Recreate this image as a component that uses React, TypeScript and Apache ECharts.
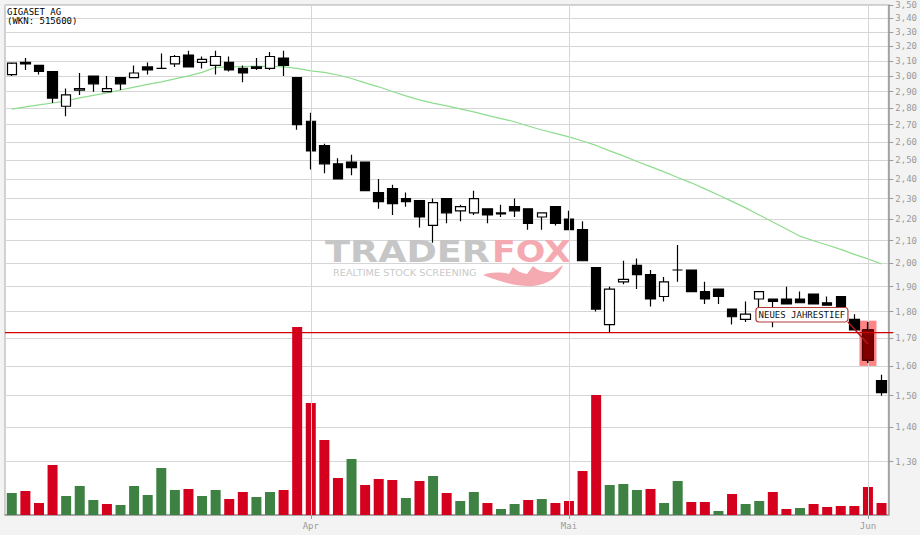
import React, { useEffect, useRef } from 'react';
import * as echarts from 'echarts';

// ---- data ----
const dates = [
  '2012-03-01', '2012-03-02', '2012-03-05', '2012-03-06', '2012-03-07', '2012-03-08', '2012-03-09',
  '2012-03-12', '2012-03-13', '2012-03-14', '2012-03-15', '2012-03-16', '2012-03-19', '2012-03-20',
  '2012-03-21', '2012-03-22', '2012-03-23', '2012-03-26', '2012-03-27', '2012-03-28', '2012-03-29',
  '2012-03-30',
  '2012-04-02', '2012-04-03', '2012-04-04', '2012-04-05', '2012-04-10', '2012-04-11', '2012-04-12',
  '2012-04-13', '2012-04-16', '2012-04-17', '2012-04-18', '2012-04-19', '2012-04-20', '2012-04-23',
  '2012-04-24', '2012-04-25', '2012-04-26', '2012-04-27', '2012-04-30',
  '2012-05-02', '2012-05-03', '2012-05-04', '2012-05-07', '2012-05-08', '2012-05-09', '2012-05-10',
  '2012-05-11', '2012-05-14', '2012-05-15', '2012-05-16', '2012-05-17', '2012-05-18', '2012-05-21',
  '2012-05-22', '2012-05-23', '2012-05-24', '2012-05-25', '2012-05-28', '2012-05-29', '2012-05-30',
  '2012-05-31',
  '2012-06-01', '2012-06-04',
];

const openPrices = [
  3.01, 3.09, 3.07, 3.03, 2.81, 2.91, 3.0, 2.9, 2.99, 2.99,
  3.06, 3.05, 3.08, 3.14, 3.09, 3.07, 3.09, 3.05, 3.06, 3.05,
  3.12, 2.99, 2.72, 2.58, 2.48, 2.49, 2.49, 2.33, 2.35, 2.3,
  2.29, 2.17, 2.3, 2.24, 2.23, 2.25, 2.225, 2.26, 2.25, 2.21,
  2.26, 2.2, 2.15, 1.98, 1.75, 1.92, 1.99, 1.95, 1.86, 1.97,
  1.97, 1.88, 1.89, 1.81, 1.77, 1.85, 1.85, 1.85, 1.85, 1.87,
  1.835, 1.86, 1.77, 1.73, 1.55,
];
const highPrices = [
  3.08, 3.12, 3.07, 3.03, 2.92, 3.02, 3.0, 3.0, 2.99, 3.07,
  3.09, 3.15, 3.14, 3.17, 3.13, 3.17, 3.13, 3.07, 3.12, 3.16,
  3.17, 2.99, 2.77, 2.59, 2.51, 2.53, 2.49, 2.4, 2.37, 2.33,
  2.29, 2.3, 2.3, 2.27, 2.34, 2.25, 2.27, 2.3, 2.25, 2.23,
  2.26, 2.24, 2.19, 1.98, 1.9, 2.01, 2.02, 1.97, 1.94, 2.08,
  1.97, 1.92, 1.89, 1.81, 1.84, 1.88, 1.85, 1.9, 1.88, 1.87,
  1.86, 1.86, 1.79, 1.76, 1.57,
];
const lowPrices = [
  3.0, 3.04, 3.01, 2.83, 2.75, 2.88, 2.9, 2.9, 2.91, 2.99,
  3.01, 3.05, 3.06, 3.06, 3.05, 3.01, 3.03, 2.96, 3.04, 3.04,
  3.0, 2.67, 2.45, 2.43, 2.4, 2.42, 2.34, 2.25, 2.22, 2.26,
  2.16, 2.09, 2.18, 2.19, 2.22, 2.18, 2.21, 2.21, 2.15, 2.15,
  2.17, 2.15, 2.01, 1.8, 1.72, 1.91, 1.89, 1.82, 1.84, 1.92,
  1.88, 1.83, 1.83, 1.75, 1.76, 1.81, 1.74, 1.83, 1.835, 1.83,
  1.825, 1.76, 1.73, 1.61, 1.5,
];
const closePrices = [
  3.085, 3.08, 3.03, 2.86, 2.88, 2.92, 2.95, 2.92, 2.95, 3.02,
  3.04, 3.05, 3.13, 3.06, 3.11, 3.13, 3.04, 3.02, 3.05, 3.13,
  3.07, 2.7, 2.55, 2.48, 2.4, 2.46, 2.34, 2.285, 2.275, 2.285,
  2.21, 2.28, 2.23, 2.26, 2.3, 2.22, 2.23, 2.24, 2.18, 2.23,
  2.18, 2.15, 2.01, 1.81, 1.89, 1.93, 1.95, 1.85, 1.92, 1.97,
  1.88, 1.85, 1.86, 1.78, 1.79, 1.88, 1.84, 1.83, 1.835, 1.83,
  1.825, 1.82, 1.73, 1.62, 1.51,
];
// volume in thousand shares
const volumes = [
  220, 240, 120, 500, 190, 290, 150, 110, 100, 290,
  200, 470, 250, 260, 190, 250, 160, 230, 180, 230,
  250, 1880, 1120, 750, 370, 560, 300, 360, 350, 170,
  340, 390, 220, 140, 230, 120, 60, 110, 150, 160,
  120, 140, 440, 1200, 300, 310, 250, 260, 120, 340,
  130, 130, 40, 210, 110, 140, 230, 60, 70, 110,
  80, 90, 90, 280, 120,
];
const movingAverage = [
  2.793, 2.806, 2.818, 2.83, 2.843, 2.861, 2.877, 2.893, 2.911, 2.929,
  2.946, 2.962, 2.982, 3.001, 3.024, 3.057, 3.06, 3.063, 3.065, 3.063,
  3.06, 3.05, 3.034, 3.024, 3.007, 2.984, 2.956, 2.931, 2.901, 2.874,
  2.849, 2.829, 2.812, 2.794, 2.776, 2.755, 2.736, 2.717, 2.692, 2.669,
  2.649, 2.629, 2.606, 2.581, 2.551, 2.523, 2.493, 2.465, 2.437, 2.408,
  2.38, 2.349, 2.318, 2.286, 2.254, 2.22, 2.186, 2.153, 2.12, 2.099,
  2.08, 2.06, 2.038, 2.018, 1.996,
];
const priceTicks = [
  1.3, 1.4, 1.5, 1.6, 1.7, 1.8, 1.9, 2.0, 2.1, 2.2, 2.3, 2.4,
  2.5, 2.6, 2.7, 2.8, 2.9, 3.0, 3.1, 3.2, 3.3, 3.4, 3.5,
];
const monthNames = ['Jan', 'Feb', 'Mär', 'Apr', 'Mai', 'Jun', 'Jul', 'Aug', 'Sep', 'Okt', 'Nov', 'Dez'];
const priceAxisMin = 1.158;
const priceAxisMax = 3.5;
const volumeAxisMax = 5100;
const yearLow = 1.72;
const highlightIndex = 63;
const highlightTop = 1.765;
const highlightBottom = 1.6;
const annotationPrice = 1.678;
const annotationText = 'NEUES JAHRESTIEF';
const titleLines = ['GIGASET AG', '(WKN: 515600)'];

const ln = Math.log;
const isMonthStart = (i: number) => i > 0 && dates[i].slice(5, 7) !== dates[i - 1].slice(5, 7);
const isUpDay = (i: number) => (i === 0 ? closePrices[0] > openPrices[0] : closePrices[i] > closePrices[i - 1]);

let shapeRegistered = false;
function registerFoxTail() {
  if (shapeRegistered) return;
  const d =
    'M0,13 C8,10 18,10 26,12 L30,5 C34,9 38,11 44,12 L50,4 C55,9 62,11 70,10 L80,3 C76,14 66,22 50,24 C34,25 18,20 0,13 Z';
  echarts.graphic.registerShape('foxTail', echarts.graphic.extendPath(d, {}) as any);
  shapeRegistered = true;
}

export default function App() {
  const ref = useRef<HTMLDivElement>(null);

  useEffect(() => {
    document.body.style.margin = '0';
    registerFoxTail();
    const chart = echarts.init(ref.current!, undefined, { renderer: 'svg' });

    const gridColor = '#d6d6d6';
    const axisGray = '#9a9a9a';
    const monoFont = '"DejaVu Sans Mono"';

    const candleData = dates.map((_, i) => [
      ln(openPrices[i]),
      ln(closePrices[i]),
      ln(lowPrices[i]),
      ln(highPrices[i]),
    ]);

    const monthStarts = dates.filter((_, i) => isMonthStart(i));
    const h = highlightIndex;

    const option: any = {
      animation: false,
      backgroundColor: '#f3f3f3',
      grid: {
        left: 5,
        right: 30,
        top: 5,
        bottom: 20,
        show: true,
        backgroundColor: '#ffffff',
        borderColor: '#a8a8a8',
        borderWidth: 1,
      },
      xAxis: {
        type: 'category',
        data: dates,
        boundaryGap: true,
        axisLine: { show: true, lineStyle: { color: axisGray, width: 1.5 } },
        axisTick: {
          show: true,
          alignWithLabel: true,
          length: 4,
          interval: (index: number) => isMonthStart(index),
          lineStyle: { color: axisGray },
        },
        axisLabel: {
          interval: (index: number) => isMonthStart(index),
          formatter: (value: string) => monthNames[parseInt(value.slice(5, 7), 10) - 1],
          color: axisGray,
          fontFamily: monoFont,
          fontSize: 9,
          margin: 6,
        },
        splitLine: { show: false },
      },
      yAxis: [
        {
          type: 'value',
          position: 'right',
          min: ln(priceAxisMin),
          max: ln(priceAxisMax),
          axisLine: { show: true, lineStyle: { color: axisGray, width: 1.5 } },
          axisTick: {
            show: true,
            length: 5,
            customValues: priceTicks.map(ln),
            lineStyle: { color: axisGray },
          },
          axisLabel: {
            customValues: priceTicks.map(ln),
            formatter: (v: number) => Math.exp(v).toFixed(2).replace('.', ','),
            color: axisGray,
            fontFamily: monoFont,
            fontSize: 9,
            margin: 7,
          },
          splitLine: { show: true, lineStyle: { color: gridColor, width: 1 } },
        },
        {
          type: 'value',
          show: false,
          min: 0,
          max: volumeAxisMax,
          splitLine: { show: false },
        },
      ],
      graphic: [
        {
          type: 'text',
          x: 7,
          y: 11.5,
          z: 10,
          style: { text: titleLines[0], font: `9px ${monoFont}`, fill: '#000', textVerticalAlign: 'middle' },
        },
        {
          type: 'text',
          x: 7,
          y: 21,
          z: 10,
          style: { text: titleLines[1], font: `9px ${monoFont}`, fill: '#000', textVerticalAlign: 'middle' },
        },
        {
          type: 'text',
          x: 325,
          y: 251.7,
          z: 1,
          scaleX: 1.22,
          style: { text: 'TRADER', font: 'bold 30px "DejaVu Sans"', fill: '#c6c6c6', textVerticalAlign: 'middle' },
        },
        {
          type: 'text',
          x: 492,
          y: 251.7,
          z: 1,
          scaleX: 1.16,
          style: { text: 'FOX', font: 'bold 30px "DejaVu Sans"', fill: '#f5a9b1', textVerticalAlign: 'middle' },
        },
        {
          type: 'text',
          x: 333,
          y: 273.7,
          z: 1,
          scaleX: 1.15,
          style: {
            text: 'REALTIME STOCK SCREENING',
            font: '8.5px "DejaVu Sans"',
            fill: '#cacaca',
            textVerticalAlign: 'middle',
          },
        },
        {
          type: 'foxTail',
          x: 483,
          y: 262,
          z: 1,
          style: { fill: '#f5a9b1' },
        },
      ],
      series: [
        {
          name: 'months',
          type: 'line',
          data: [],
          z: 1,
          silent: true,
          markLine: {
            silent: true,
            symbol: ['none', 'none'],
            label: { show: false },
            lineStyle: { color: gridColor, width: 1, type: 'solid' },
            data: monthStarts.map((d) => ({ xAxis: d })),
          },
        },
        {
          name: 'Volumen',
          type: 'bar',
          xAxisIndex: 0,
          yAxisIndex: 1,
          barWidth: 10,
          z: 2,
          data: volumes.map((v, i) => ({
            value: v,
            itemStyle: { color: isUpDay(i) ? '#3e8243' : '#d5001e' },
          })),
        },
        {
          name: 'GD',
          type: 'line',
          yAxisIndex: 0,
          symbol: 'none',
          z: 2,
          lineStyle: { color: '#8edc8e', width: 1.2 },
          data: movingAverage.map(ln),
        },
        {
          name: 'highlight',
          type: 'custom',
          yAxisIndex: 0,
          z: 3,
          silent: true,
          data: [[h, ln(highlightTop), ln(highlightBottom)]],
          renderItem: (params: any, api: any) => {
            const top = api.coord([api.value(0), api.value(1)]);
            const bottom = api.coord([api.value(0), api.value(2)]);
            return {
              type: 'rect',
              shape: { x: top[0] - 8.5, y: top[1], width: 17, height: bottom[1] - top[1] },
              style: { fill: '#ff8585' },
            };
          },
        },
        {
          name: 'Kurs',
          type: 'candlestick',
          yAxisIndex: 0,
          barWidth: 10,
          z: 4,
          itemStyle: {
            color: '#ffffff',
            color0: '#000000',
            borderColor: '#000000',
            borderColor0: '#000000',
            borderWidth: 1.2,
          },
          data: candleData,
        },
        {
          name: 'Tief-Kerze',
          type: 'custom',
          yAxisIndex: 0,
          z: 5,
          silent: true,
          data: [[h, ln(openPrices[h]), ln(closePrices[h]), ln(lowPrices[h]), ln(highPrices[h])]],
          renderItem: (params: any, api: any) => {
            const o = api.coord([api.value(0), api.value(1)]);
            const c = api.coord([api.value(0), api.value(2)]);
            const l = api.coord([api.value(0), api.value(3)]);
            const hi = api.coord([api.value(0), api.value(4)]);
            const top = Math.min(o[1], c[1]);
            const bottom = Math.max(o[1], c[1]);
            return {
              type: 'group',
              children: [
                {
                  type: 'line',
                  shape: { x1: o[0], y1: hi[1], x2: o[0], y2: l[1] },
                  style: { stroke: '#4a0000', lineWidth: 1.2 },
                },
                {
                  type: 'rect',
                  shape: { x: o[0] - 5.5, y: top, width: 11, height: bottom - top },
                  style: { fill: '#800000', stroke: '#500000', lineWidth: 1.2 },
                },
              ],
            };
          },
        },
        {
          name: 'Jahrestief',
          type: 'custom',
          yAxisIndex: 0,
          z: 6,
          silent: true,
          clip: false,
          data: [[0, ln(yearLow)]],
          renderItem: (params: any, api: any) => {
            const p = api.coord([api.value(0), api.value(1)]);
            const cs = params.coordSys;
            return {
              type: 'line',
              shape: { x1: cs.x, y1: p[1], x2: cs.x + cs.width + 5, y2: p[1] },
              style: { stroke: '#d00000', lineWidth: 1.3 },
            };
          },
        },
        {
          name: 'annotation',
          type: 'custom',
          yAxisIndex: 0,
          z: 7,
          silent: true,
          data: [[h, ln(annotationPrice)]],
          renderItem: (params: any, api: any) => {
            const p = api.coord([api.value(0), api.value(1)]);
            const bw = 92;
            const bh = 14.5;
            const bx = p[0] - 20 - bw;
            const by = p[1] - 22 - bh;
            return {
              type: 'group',
              children: [
                {
                  type: 'line',
                  shape: { x1: bx + bw, y1: by + bh, x2: p[0], y2: p[1] },
                  style: { stroke: '#b01818', lineWidth: 1.5 },
                },
                {
                  type: 'rect',
                  shape: { x: bx, y: by, width: bw, height: bh, r: 3 },
                  style: { fill: '#ffffff', stroke: '#b33a3a', lineWidth: 1.2 },
                },
                {
                  type: 'text',
                  style: {
                    text: annotationText,
                    x: bx + bw / 2,
                    y: by + bh / 2 + 0.5,
                    textAlign: 'center',
                    textVerticalAlign: 'middle',
                    font: `9px ${monoFont}`,
                    fill: '#111111',
                  },
                },
              ],
            };
          },
        },
      ],
    };

    chart.setOption(option);
    return () => chart.dispose();
  }, []);

  return <div ref={ref} style={{ position: 'fixed', left: 0, top: 0, width: 920, height: 535 }} />;
}
